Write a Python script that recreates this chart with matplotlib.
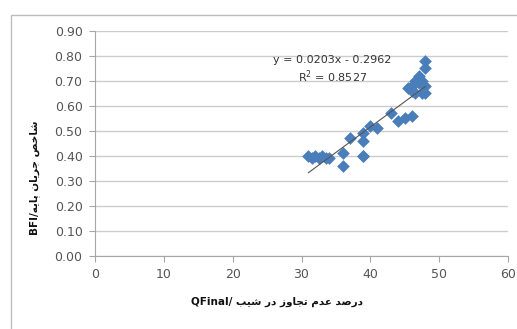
import matplotlib.pyplot as plt
from matplotlib.patches import Rectangle

# Scatter data: QFinal (%) vs base flow index
qfinal = [31, 31.5, 32, 32.5, 33, 33.5, 34, 36, 36, 37, 39, 39, 39, 39, 40, 41,
          43, 44, 45, 46, 45.5, 46, 46.5, 47, 47.5, 46.5, 47.5, 48, 48, 48, 47, 46, 48, 47]
bfi = [0.40, 0.39, 0.40, 0.39, 0.40, 0.39, 0.39, 0.41, 0.36, 0.47, 0.40, 0.40, 0.46, 0.49,
       0.52, 0.51, 0.57, 0.54, 0.55, 0.56, 0.67, 0.68, 0.70, 0.72, 0.70, 0.65, 0.65, 0.78,
       0.75, 0.68, 0.69, 0.66, 0.65, 0.70]

# Linear trend line as reported
slope = 0.0203
intercept = -0.2962
r2 = 0.8527

xticks = [0, 10, 20, 30, 40, 50, 60]
yticks = [0.0, 0.1, 0.2, 0.3, 0.4, 0.5, 0.6, 0.7, 0.8, 0.9]

# Minimal Persian shaping: (isolated, final, initial, medial)
FORMS = {
    'ا': ('\uFE8D', '\uFE8E', None, None),
    'ب': ('\uFE8F', '\uFE90', '\uFE91', '\uFE92'),
    'پ': ('\uFB56', '\uFB57', '\uFB58', '\uFB59'),
    'ت': ('\uFE95', '\uFE96', '\uFE97', '\uFE98'),
    'ج': ('\uFE9D', '\uFE9E', '\uFE9F', '\uFEA0'),
    'خ': ('\uFEA5', '\uFEA6', '\uFEA7', '\uFEA8'),
    'د': ('\uFEA9', '\uFEAA', None, None),
    'ر': ('\uFEAD', '\uFEAE', None, None),
    'ز': ('\uFEAF', '\uFEB0', None, None),
    'ش': ('\uFEB5', '\uFEB6', '\uFEB7', '\uFEB8'),
    'ص': ('\uFEB9', '\uFEBA', '\uFEBB', '\uFEBC'),
    'ع': ('\uFEC9', '\uFECA', '\uFECB', '\uFECC'),
    'م': ('\uFEE1', '\uFEE2', '\uFEE3', '\uFEE4'),
    'ن': ('\uFEE5', '\uFEE6', '\uFEE7', '\uFEE8'),
    'ه': ('\uFEE9', '\uFEEA', '\uFEEB', '\uFEEC'),
    'و': ('\uFEED', '\uFEEE', None, None),
    'ی': ('\uFBFC', '\uFBFD', '\uFBFE', '\uFBFF'),
}


def rtl(text):
    out = []
    for i, ch in enumerate(text):
        if ch not in FORMS:
            out.append(ch)
            continue
        prev = text[i - 1] if i > 0 else ''
        nxt = text[i + 1] if i + 1 < len(text) else ''
        join_prev = prev in FORMS and FORMS[prev][2] is not None
        join_next = nxt in FORMS and FORMS[ch][2] is not None
        iso, fin, ini, med = FORMS[ch]
        if join_prev and join_next:
            out.append(med)
        elif join_prev:
            out.append(fin)
        elif join_next:
            out.append(ini)
        else:
            out.append(iso)
    return ''.join(reversed(out))


plt.rcParams['font.family'] = ['DejaVu Sans']

fig = plt.figure(figsize=(5.17, 3.29), dpi=100)
ax = fig.add_axes([0.1838, 0.2219, 0.7988, 0.6839])

# outer chart frame
fig.patches.append(Rectangle((11 / 517, -0.1), 1.2, 1 - 15 / 329 + 0.1,
                             transform=fig.transFigure, fill=False,
                             edgecolor='#bdbdbd', linewidth=1))

ax.scatter(qfinal, bfi, marker='D', s=42, color='#4a7ebb', linewidths=0, zorder=3)

x0, x1 = min(qfinal), max(qfinal)
ax.plot([x0, x1], [slope * x0 + intercept, slope * x1 + intercept],
        color='#555555', linewidth=0.8, zorder=4)

ax.text(0.574, 0.871, f'y = {slope}x - {abs(intercept)}', transform=ax.transAxes,
        ha='center', va='center', fontsize=8, color='#333333')
ax.text(0.576, 0.796, f'R$^2$ = {r2}', transform=ax.transAxes,
        ha='center', va='center', fontsize=8, color='#333333')

ax.set_xlim(0, 60)
ax.set_ylim(0, 0.9)
ax.set_xticks(xticks)
ax.set_yticks(yticks)
ax.set_yticklabels([f'{v:.2f}' for v in yticks])
ax.grid(axis='y', color='#cccccc', linewidth=1)
ax.set_axisbelow(True)

for s in ['top', 'right']:
    ax.spines[s].set_visible(False)
ax.spines['left'].set_color('#a6a6a6')
ax.spines['bottom'].set_color('#a6a6a6')
ax.tick_params(length=4, color='#a6a6a6', labelsize=9, labelcolor='#555555', pad=5)

fig.text(35 / 517, 1 - 178 / 329, 'BFI/' + rtl('شاخص جریان پایه'), rotation=90,
         ha='center', va='center', fontsize=7.5, fontweight='bold', color='#111111')
fig.text(277 / 517, 1 - 302 / 329, 'QFinal/ ' + rtl('درصد عدم تجاوز در شیب'),
         ha='center', va='center', fontsize=7.5, fontweight='bold', color='#111111')

fig.savefig('out.png', dpi=100)
